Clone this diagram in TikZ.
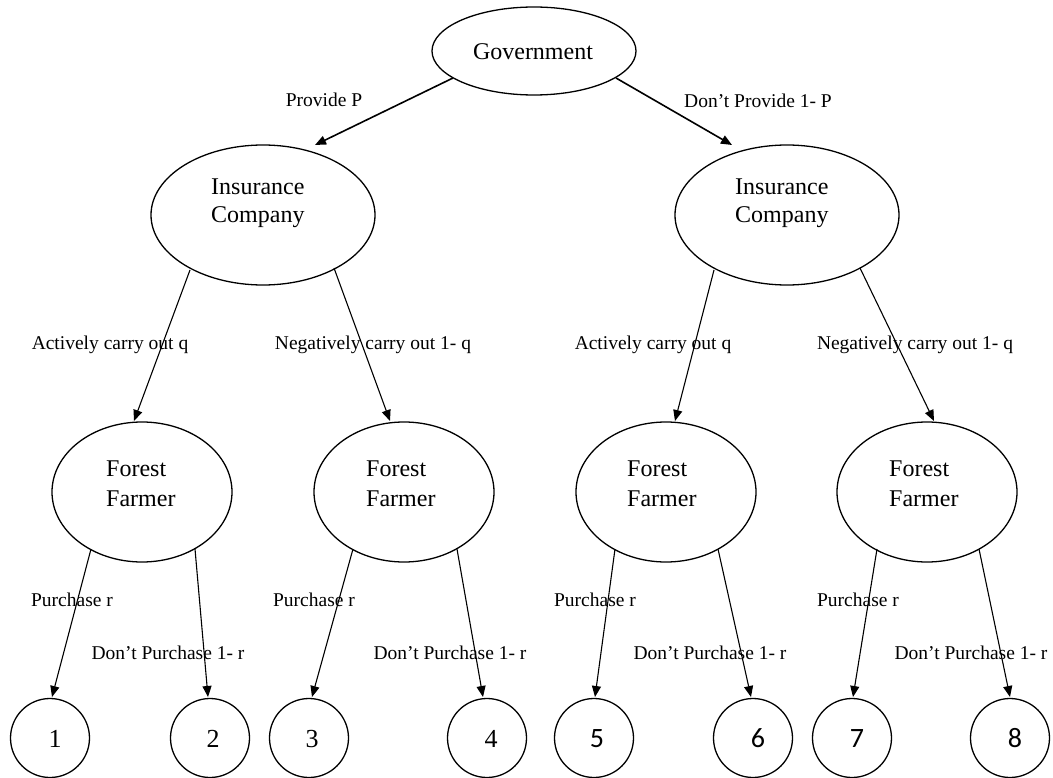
\documentclass[tikz,border=0pt]{standalone}
\usepackage{fontspec}
\setmainfont{Liberation Serif}
\newfontfamily\numsans{Carlito}
\usetikzlibrary{shapes.geometric,arrows.meta,calc}
\begin{document}
\begin{tikzpicture}[x=1pt,y=-1pt,
  ell/.style={draw,ellipse,line width=1.3pt,inner sep=0pt},
  circ/.style={draw,circle,line width=1.3pt,inner sep=0pt,minimum size=79pt},
  ntext/.style={inner sep=0pt,align=left,anchor=west},
  lab/.style={inner sep=0pt,anchor=base,font=\fontsize{19.5}{22}\selectfont},
  num/.style={inner sep=0pt,anchor=base,font=\fontsize{26}{28}\selectfont},
  numb/.style={num,font=\numsans\fontsize{28}{30}\selectfont},
  arr/.style={draw,line width=1.1pt,-{Triangle[length=11pt,width=9pt]}},
  arrtop/.style={arr,line width=1.6pt}]
\useasboundingbox (0,0) rectangle (1053,778);

% ellipses
\node[ell,minimum width=204pt,minimum height=88pt] (gov) at (534,51) {};
\node[ell,minimum width=224pt,minimum height=140pt] (ic1) at (263,215) {};
\node[ell,minimum width=224pt,minimum height=140pt] (ic2) at (787,215) {};
\node[ell,minimum width=180pt,minimum height=140pt] (ff1) at (142,492) {};
\node[ell,minimum width=180pt,minimum height=140pt] (ff2) at (404,492) {};
\node[ell,minimum width=180pt,minimum height=140pt] (ff3) at (666,492) {};
\node[ell,minimum width=180pt,minimum height=140pt] (ff4) at (927,492) {};

% circles
\node[circ] (c1) at (50,738) {};
\node[circ] (c2) at (210,738) {};
\node[circ] (c3) at (309,738) {};
\node[circ] (c4) at (487,738) {};
\node[circ] (c5) at (594,738) {};
\node[circ] (c6) at (753,738) {};
\node[circ] (c7) at (852,738) {};
\node[circ] (c8) at (1010,738) {};

% node texts
\node[inner sep=0pt,anchor=base,font=\fontsize{24}{28}\selectfont] (govt) at (533,60) {Government};
\node[ntext,font=\fontsize{24}{28}\selectfont] (ic1t) at (211,203) {Insurance\\Company};
\node[ntext,font=\fontsize{24}{28}\selectfont] (ic2t) at (735,203) {Insurance\\Company};
\node[ntext,font=\fontsize{24}{30}\selectfont] (ff1t) at (106,484) {Forest\\Farmer};
\node[ntext,font=\fontsize{24}{30}\selectfont] (ff2t) at (366,484) {Forest\\Farmer};
\node[ntext,font=\fontsize{24}{30}\selectfont] (ff3t) at (627,484) {Forest\\Farmer};
\node[ntext,font=\fontsize{24}{30}\selectfont] (ff4t) at (889,484) {Forest\\Farmer};

\node[num] (n1) at (55,747) {1};
\node[num] (n2) at (213,747) {2};
\node[num] (n3) at (312,747) {3};
\node[num] (n4) at (491,747) {4};
\node[numb] (n5) at (597,747) {5};
\node[numb] (n6) at (758,747) {6};
\node[numb] (n7) at (857,747) {7};
\node[numb] (n8) at (1015,747) {8};

% connectors
\draw[arrtop] ($(gov.center)+(-81,27)$) -- ($(ic1.center)+(52,-70)$);
\draw[arrtop] ($(gov.center)+(82,27)$) -- ($(ic2.center)+(-55,-70)$);

\draw[arr] ($(ic1.center)+(-73,55)$) -- ($(ff1.center)+(-8,-71)$);
\draw[arr] ($(ic1.center)+(71,53)$) -- ($(ff2.center)+(-14,-71)$);
\draw[arr] ($(ic2.center)+(-73,55)$) -- ($(ff3.center)+(9,-71)$);
\draw[arr] ($(ic2.center)+(73,53)$) -- ($(ff4.center)+(7,-71)$);

\draw[arr] ($(ff1.center)+(-51,57)$) -- ($(c1.center)+(2,-41)$);
\draw[arr] ($(ff1.center)+(53,57)$) -- ($(c2.center)+(-2,-41)$);
\draw[arr] ($(ff2.center)+(-51,57)$) -- ($(c3.center)+(3,-41)$);
\draw[arr] ($(ff2.center)+(53,57)$) -- ($(c4.center)+(-4,-41)$);
\draw[arr] ($(ff3.center)+(-51,57)$) -- ($(c5.center)+(1,-41)$);
\draw[arr] ($(ff3.center)+(52,57)$) -- ($(c6.center)+(-2,-41)$);
\draw[arr] ($(ff4.center)+(-50,57)$) -- ($(c7.center)+(1,-41)$);
\draw[arr] ($(ff4.center)+(52,57)$) -- ($(c8.center)+(0,-41)$);

% labels
\node[lab] (l1) at (324,107) {Provide P};
\node[lab] (l2) at (758,108) {Don’t Provide 1- P};
\node[lab] (l3) at (110,349) {Actively carry out q};
\node[lab] (l4) at (373,349) {Negatively carry out 1- q};
\node[lab] (l5) at (653,349) {Actively carry out q};
\node[lab] (l6) at (915,349) {Negatively carry out 1- q};
\node[lab] (l7) at (72,606) {Purchase r};
\node[lab] (l8) at (314,606) {Purchase r};
\node[lab] (l9) at (595,606) {Purchase r};
\node[lab] (l10) at (858,606) {Purchase r};
\node[lab] (l11) at (168,659) {Don’t Purchase 1- r};
\node[lab] (l12) at (450,659) {Don’t Purchase 1- r};
\node[lab] (l13) at (710,659) {Don’t Purchase 1- r};
\node[lab] (l14) at (971,659) {Don’t Purchase 1- r};
\end{tikzpicture}
\end{document}
